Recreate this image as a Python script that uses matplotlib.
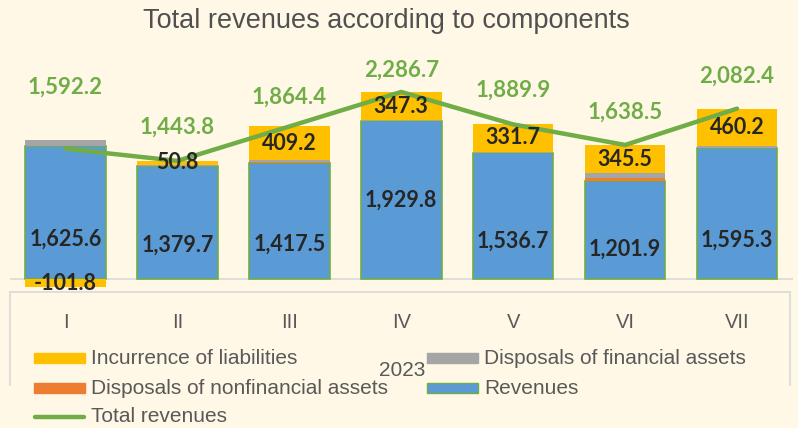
import numpy as np
import matplotlib
matplotlib.use("Agg")
import matplotlib.pyplot as plt
from matplotlib.patches import Rectangle
from matplotlib.lines import Line2D

# Data (2023, months I-VII)
months = ["I", "II", "III", "IV", "V", "VI", "VII"]
revenues = [1625.6, 1379.7, 1417.5, 1929.8, 1536.7, 1201.9, 1595.3]
nonfin_assets = [0.0, 0.0, 15.0, 0.0, 0.0, 33.0, 0.0]
fin_assets = [68.4, 13.3, 22.7, 9.6, 21.5, 58.1, 26.9]
liabilities = [-101.8, 50.8, 409.2, 347.3, 331.7, 345.5, 460.2]
total = [1592.2, 1443.8, 1864.4, 2286.7, 1889.9, 1638.5, 2082.4]

# label placement (layout only)
rev_label_frac = [0.3, 0.3, 0.3, 0.5, 0.3, 0.3, 0.3]
total_label_off = [62, 34, 29, 22, 34, 33, 32]

bg = "#FFF8E6"
c_yel = "#FFC000"
c_gray = "#A5A5A5"
c_orange = "#ED7D31"
c_blue = "#5B9BD5"
c_green = "#70AD47"
txt = "#595959"

W, H = 798, 428
fig = plt.figure(figsize=(W / 100, H / 100), dpi=100, facecolor=bg)

def px(x0, y0, x1, y1):
    # pixel box -> figure fraction [left, bottom, width, height]
    return [x0 / W, 1 - y1 / H, (x1 - x0) / W, (y1 - y0) / H]

ax = fig.add_axes(px(9.5, 60, 793, 292))
ax.set_facecolor(bg)
ax.patch.set_alpha(0)

x = np.arange(len(months))
rev = np.array(revenues)
nf = np.array(nonfin_assets)
fa = np.array(fin_assets)
li = np.array(liabilities)
bw = 0.72

ax.bar(x, rev, bw, color=c_blue, edgecolor=c_green, linewidth=1.2, zorder=2)
ax.bar(x, nf, bw, bottom=rev, color=c_orange, linewidth=0, zorder=2)
ax.bar(x, fa, bw, bottom=rev + nf, color=c_gray, linewidth=0, zorder=2)
li_bottom = np.where(li >= 0, rev + nf + fa, 0)
ax.bar(x, li, bw, bottom=li_bottom, color=c_yel, linewidth=0, zorder=2)

ax.plot(x, total, color=c_green, lw=3.2, solid_capstyle="round", zorder=3)

ax.axhline(0, color="#D9D9D9", lw=1.2, zorder=1)

lab_font = dict(family=["Lato", "DejaVu Sans"], weight="bold")
for i in range(len(months)):
    ax.text(x[i], rev[i] * rev_label_frac[i], f"{revenues[i]:,.1f}",
            ha="center", va="center", fontsize=15.5, color="#262626", zorder=4, **lab_font)
    ax.text(x[i], li_bottom[i] + li[i] / 2, f"{liabilities[i]:,.1f}",
            ha="center", va="center", fontsize=15.5, color="#262626", zorder=4, **lab_font)
    ax.annotate(f"{total[i]:,.1f}", (x[i], total[i]), xytext=(0, total_label_off[i] * 0.72),
                textcoords="offset points", ha="center", va="center",
                fontsize=16, color=c_green, zorder=4, **lab_font)

ax.set_xlim(-0.5, 6.5)
ax.set_ylim(-159, 2677)
ax.axis("off")

# category axis box
for seg in [((10, 10), (292, 385)), ((790, 790), (292, 385)), ((10, 790), (292, 292))]:
    fig.add_artist(Line2D([p / W for p in seg[0]], [1 - p / H for p in seg[1]],
                          color="#D9D9D9", lw=1.2))
for i, m in enumerate(months):
    xp = 9.5 + (i + 0.5) * (793 - 9.5) / 7
    fig.text(xp / W, 1 - 323 / H, m, ha="center", va="center",
             fontsize=14.5, color=txt, family="Liberation Sans")
fig.text(402 / W, 1 - 371 / H, "2023", ha="center", va="center",
         fontsize=15, color=txt, family="Liberation Sans")

fig.text(386 / W, 1 - 21 / H, "Total revenues according to components", ha="center", va="center",
         fontsize=19.5, color="#505050", family="Liberation Sans")

# legend
legend_items = [
    ("Incurrence of liabilities", c_yel, 34, 358, "patch"),
    ("Disposals of financial assets", c_gray, 427, 358, "patch"),
    ("Disposals of nonfinancial assets", c_orange, 34, 388, "patch"),
    ("Revenues", c_blue, 427, 388, "patch"),
    ("Total revenues", c_green, 34, 417, "line"),
]
for label, col, lx, ly, kind in legend_items:
    if kind == "patch":
        ec = c_green if label == "Revenues" else col
        fig.add_artist(Rectangle((lx / W, 1 - (ly + 5) / H), 51 / W, 10 / H,
                                 facecolor=col, edgecolor=ec, lw=1))
    else:
        fig.add_artist(Line2D([(lx + 1) / W, (lx + 50) / W], [1 - ly / H] * 2,
                              color=col, lw=3.2, solid_capstyle="round"))
    fig.text((lx + 57) / W, 1 - ly / H, label, ha="left", va="center",
             fontsize=15, color=txt, family="Liberation Sans")

fig.savefig("out.png", dpi=100, facecolor=bg)
